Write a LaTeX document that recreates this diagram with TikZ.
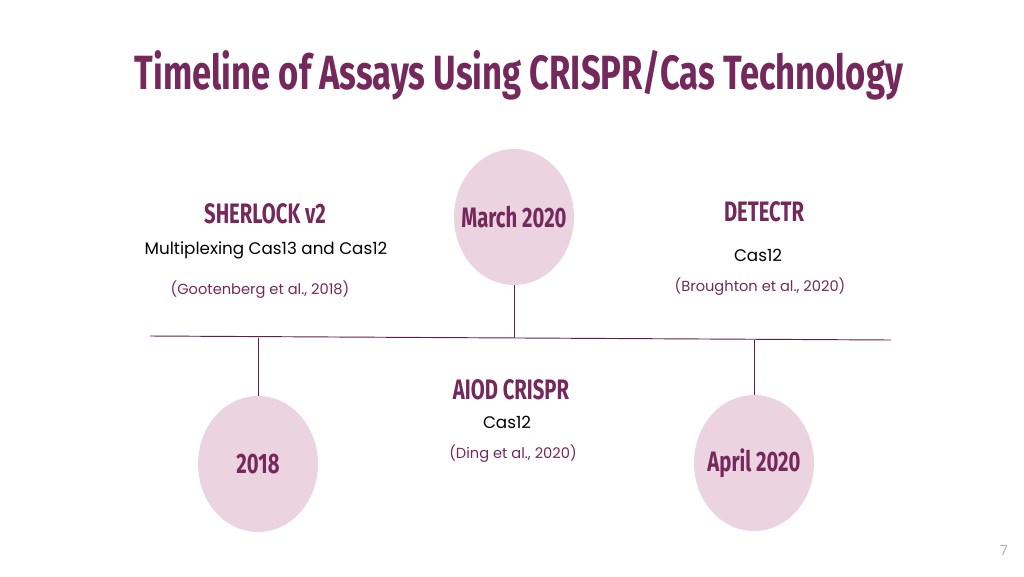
\documentclass[tikz,border=0pt]{standalone}
\usepackage{fontspec}
\setmainfont{Poppins}
\newfontfamily\headfont{Fira Sans}
\usetikzlibrary{shapes.geometric}
\definecolor{plum}{HTML}{74285C}
\definecolor{blush}{HTML}{EBD3DF}
\tikzset{
  datebubble/.style={ellipse,fill=blush,minimum width=3.6cm,minimum height=4.08cm,inner sep=0pt},
  headtext/.style={text=plum,font=\headfont\bfseries\fontsize{24}{26}\selectfont,xscale=0.72},
  bodytext/.style={text=black,font=\fontsize{14.3}{16}\selectfont},
  citetext/.style={text=plum,font=\fontsize{12.5}{14}\selectfont},
  stem/.style={draw=plum!80!black,line width=0.8pt}
}
\begin{document}
\begin{tikzpicture}[x=0.03cm,y=-0.03cm]
  \useasboundingbox (0,0) rectangle (1024,576);
  % title
  \node[text=plum,font=\headfont\bfseries\fontsize{41}{44}\selectfont,xscale=0.72] (title) at (519,75) {Timeline of Assays Using CRISPR/Cas Technology};
  % timeline
  \coordinate (left) at (150,336);
  \coordinate (right) at (891,340);
  \draw[stem] (left) -- (right);
  \coordinate (midpt) at (514,338.2);
  \coordinate (firstpt) at (258,337.6);
  \coordinate (lastpt) at (754,340);
  % bubbles
  \node[datebubble] (march) at (514,217) {};
  \node[headtext] at (march) {March 2020};
  \node[datebubble] (year) at (258,464) {};
  \node[headtext] at (year) {2018};
  \node[datebubble] (april) at (754,463) {};
  \node[headtext] at (april) {April 2020};
  \draw[stem] (march.south) -- (midpt);
  \draw[stem] (firstpt) -- (year.north);
  \draw[stem] (lastpt) -- (april.north);
  % assays
  \node[headtext] (sherlock) at (265,214) {SHERLOCK v2};
  \node[bodytext] (sherlockcas) at (266,250) {Multiplexing Cas13 and Cas12};
  \node[citetext] (sherlockref) at (260,290) {(Gootenberg et al., 2018)};
  \node[headtext] (detectr) at (764,212) {DETECTR};
  \node[bodytext] (detectrcas) at (758,255) {Cas12};
  \node[citetext] (detectrref) at (760,287) {(Broughton et al., 2020)};
  \node[headtext] (aiod) at (511,390) {AIOD CRISPR};
  \node[bodytext] (aiodcas) at (507,422) {Cas12};
  \node[citetext] (aiodref) at (513,454) {(Ding et al., 2020)};
  \node[text=gray!60,font=\fontsize{12}{14}\selectfont] (page) at (1004,550) {7};
\end{tikzpicture}
\end{document}
